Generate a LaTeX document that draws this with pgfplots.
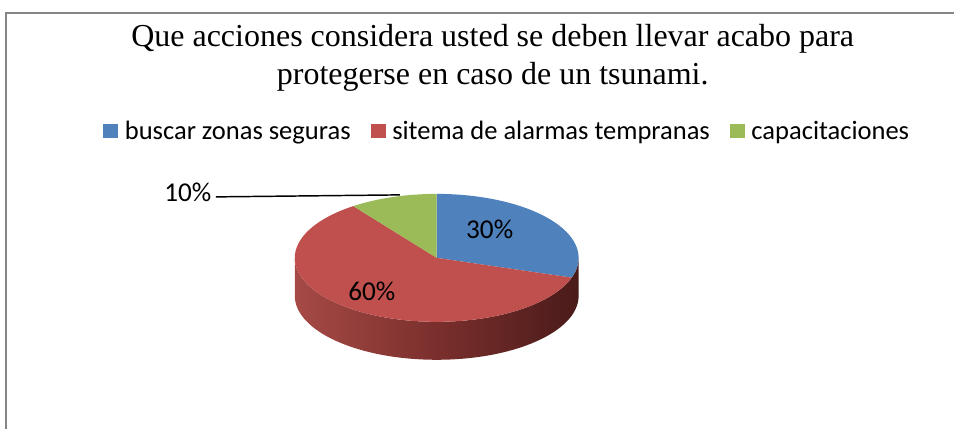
\documentclass[border=0pt]{standalone}
\usepackage{pgfplots}
\pgfplotsset{compat=1.18}
\usepackage{pgfplotstable}
\usepackage{fontspec}
\setmainfont{Liberation Serif}
\newfontfamily\calib{Carlito}
\definecolor{cblue}{HTML}{4F81BD}
\definecolor{cred}{HTML}{C0504D}
\definecolor{cgreen}{HTML}{9BBB59}
\definecolor{sideL}{HTML}{A64A46}
\definecolor{sideM}{HTML}{7A2F2C}
\definecolor{sideR}{HTML}{4A1B1A}
\definecolor{framegray}{HTML}{868686}

\pgfplotstableread{
cat value
1 30
2 60
3 10
}\piedata

\begin{document}
\begin{tikzpicture}
\pgfplotstablegetelem{0}{value}\of\piedata \pgfmathsetmacro\va{\pgfplotsretval}
\pgfplotstablegetelem{1}{value}\of\piedata \pgfmathsetmacro\vb{\pgfplotsretval}
\pgfplotstablegetelem{2}{value}\of\piedata \pgfmathsetmacro\vc{\pgfplotsretval}
\pgfmathsetmacro\aA{90-3.6*\va}
\pgfmathsetmacro\aC{90+3.6*\vc}
\pgfmathsetmacro\aCC{\aC-360}
\begin{axis}[x=0.75pt,y=0.75pt,y dir=reverse,
  xmin=0,xmax=955,ymin=0,ymax=429,
  hide axis, clip=false,
  legend columns=3,
  legend style={at={(axis cs:99,131)},anchor=west,draw=none,fill=none,
    font=\calib\fontsize{19.9}{24}\selectfont,
    nodes={inner xsep=5pt},
    /tikz/every even column/.append style={column sep=10pt}},
]
\path (axis cs:0,0) rectangle (axis cs:955,429);
% frame
\draw[framegray, line width=0.9pt] (axis cs:6,429) -- (axis cs:6,13) -- (axis cs:955,13);
% legend
\addlegendimage{legend image code/.code={\fill[cblue,draw=none] (0pt,-5.4pt) rectangle (11.25pt,5.4pt);}}
\addlegendentry{buscar zonas seguras}
\addlegendimage{legend image code/.code={\fill[cred,draw=none] (0pt,-5.4pt) rectangle (11.25pt,5.4pt);}}
\addlegendentry{sitema de alarmas tempranas}
\addlegendimage{legend image code/.code={\fill[cgreen,draw=none] (0pt,-5.4pt) rectangle (11.25pt,5.4pt);}}
\addlegendentry{capacitaciones}
% title
\node[anchor=base, font=\fontsize{24}{28}\selectfont] at (axis cs:493,47) {Que acciones considera usted se deben llevar acabo para};
\node[anchor=base, font=\fontsize{24}{28}\selectfont] at (axis cs:493,85) {protegerse en caso de un tsunami.};
% side of the pie
\shade[left color=sideL, right color=sideR, middle color=sideM]
  (axis cs:437,258) ++(180:106.5pt and 48pt)
  arc[start angle=180,end angle=360,x radius=106.5pt,y radius=48pt]
  -- ++(0,-28.5pt)
  arc[start angle=360,end angle=180,x radius=106.5pt,y radius=48pt] -- cycle;
% top wedges
\fill[cblue] (axis cs:437,258) -- ++(90:106.5pt and 48pt)
  arc[start angle=90,end angle=\aA,x radius=106.5pt,y radius=48pt] -- cycle;
\fill[cred] (axis cs:437,258) -- ++(\aA:106.5pt and 48pt)
  arc[start angle=\aA,end angle=\aCC,x radius=106.5pt,y radius=48pt] -- cycle;
\fill[cgreen] (axis cs:437,258) -- ++(\aC:106.5pt and 48pt)
  arc[start angle=\aC,end angle=90,x radius=106.5pt,y radius=48pt] -- cycle;
% labels
\node[font=\calib\fontsize{20.4}{24}\selectfont] at (axis cs:490,229) {30\%};
\node[font=\calib\fontsize{20.4}{24}\selectfont] at (axis cs:372,292) {60\%};
\node[font=\calib\fontsize{20.4}{24}\selectfont] at (axis cs:188,192) {10\%};
\draw[line width=1.1pt] (axis cs:216,197) -- (axis cs:400,195);
\end{axis}
\end{tikzpicture}
\end{document}
